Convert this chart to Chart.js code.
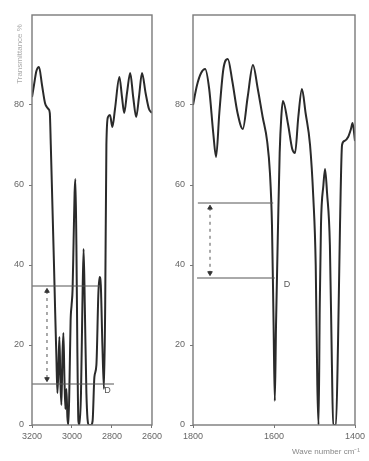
<!DOCTYPE html>
<html><head><meta charset="utf-8">
<script src="https://cdn.jsdelivr.net/npm/chart.js@4.4.1/dist/chart.umd.min.js"></script>
<style>
html,body{margin:0;padding:0;background:#fff;width:369px;height:461px;overflow:hidden;}
#c1{position:absolute;left:0;top:0;}
#c2{position:absolute;left:160px;top:0;}
</style></head><body>
<canvas id="c1" width="165" height="461"></canvas>
<canvas id="c2" width="209" height="461"></canvas>
<script>
// ---- data ----
const leftWavenumber = [3200,3190,3178,3165,3150,3135,3126,3118,3111,3106,3098,3090,3084,3078,3073,3068,3063,3058,3053,3048,3043,3038,3033,3028,3023,3018,3012,3007,3002,2997,2992,2987,2983,2978,2973,2968,2963,2955,2948,2942,2936,2928,2917,2905,2897,2888,2878,2868,2862,2856,2848,2840,2834,2828,2820,2810,2798,2785,2763,2750,2739,2725,2709,2694,2679,2665,2650,2632,2615,2600];
const leftTransmittance = [82,85,88.5,89.5,85,80.5,79.5,79,78,70,55,40,28,17,8,14,22,11,5,17,23,12,4,9,2,0,12,26,30,34,46,58,61.5,45,18,1,0,8,30,44,30,8,0,0,1,12,15,33,37,35,20,9,30,70,77,77.5,74.5,79,87,82,78,83,88,82,77,82,88,83,79,78];
const rightWavenumber = [1800,1790,1780,1770,1760,1750,1743,1735,1725,1714,1703,1690,1677,1665,1652,1640,1628,1617,1610,1605,1601,1598,1595,1590,1586,1582,1578,1565,1555,1548,1540,1531,1522,1511,1503,1497,1493,1490,1487,1484,1478,1474,1469,1462,1457,1454,1447,1442,1437,1432,1426,1417,1410,1406,1400];
const rightTransmittance = [80,85,88,89,84,73,67,78,89,91.5,86,78,74,82,90,84,77,71,63,50,25,6,25,50,68,77,81,75,69,68,77,84,78,70,57,40,10,0,30,50,60,64,58,45,15,0,0,20,50,70,71,72,74,75.5,71];
const yTickValues = [0,20,40,60,80];
const leftXTicks = [3200,3000,2800,2600];
const rightXTicks = [1800,1600,1400];
// construction lines
const leftUpperWN = [3200,2860], leftUpperT = [34.75,34.75];
const leftLowerWN = [3200,2790], leftLowerT = [10.25,10.25];
const leftArrowWN = [3125,3125], leftArrowT = [33.5,11.5];
const rightUpperWN = [1788,1602], rightUpperT = [55.5,55.5];
const rightLowerWN = [1790,1598], rightLowerT = [36.75,36.75];
const rightArrowWN = [1758,1758], rightArrowT = [54.3,38];
const leftMarkWN = [2822], leftMarkT = [8.5], rightMarkWN = [1568], rightMarkT = [35];
const markText = 'D';
const yTitle = 'Transmittance %';
const xTitle = 'Wave number cm\u207B\u00B9';

const pts = (xs, ys) => xs.map((x, i) => ({x, y: ys[i]}));
const FONT = "'Liberation Sans', Arial, sans-serif";

const framePlugin = {
  id: 'frame',
  afterDraw(chart, args, o) {
    const {ctx, chartArea: a, scales} = chart;
    ctx.save();
    ctx.strokeStyle = '#7a7a7a';
    ctx.lineWidth = 1.4;
    ctx.strokeRect(a.left, a.top, a.right - a.left, a.bottom - a.top);
    ctx.fillStyle = '#555';
    ctx.font = '9px ' + FONT;
    ctx.textAlign = 'center';
    ctx.textBaseline = 'middle';
    (o.marks || []).forEach(m => {
      m.xs.forEach((x, i) => {
        ctx.fillText(markText, scales.x.getPixelForValue(x), scales.y.getPixelForValue(m.ys[i]));
      });
    });
    if (o.xtitle) {
      ctx.fillStyle = '#888';
      ctx.font = '8px ' + FONT;
      ctx.textAlign = 'right';
      ctx.fillText(xTitle, a.right + 5, 452);
    }
    if (o.vtitle) {
      ctx.translate(20, 54);
      ctx.rotate(-Math.PI / 2);
      ctx.fillStyle = '#aaa';
      ctx.font = '8px ' + FONT;
      ctx.textAlign = 'center';
      ctx.fillText(yTitle, 0, 0);
    }
    ctx.restore();
  }
};

function lineDs(data, extra) {
  return Object.assign({data, borderColor: '#2a2a2a', borderWidth: 2, pointRadius: 0,
    cubicInterpolationMode: 'monotone', fill: false}, extra || {});
}
function annoDs(data, extra) {
  return Object.assign({data, borderColor: '#555', borderWidth: 1, pointRadius: 0, tension: 0, fill: false}, extra || {});
}
function arrowDs(data) {
  return annoDs(data, {borderDash: [3, 4], pointRadius: 2.6, pointStyle: 'triangle',
    pointBackgroundColor: '#333', pointBorderColor: '#333', pointRotation: [0, 180]});
}

function makeChart(id, cfg) {
  return new Chart(document.getElementById(id), {
    type: 'line',
    data: {datasets: cfg.datasets},
    options: {
      responsive: false, animation: false, devicePixelRatio: 1,
      layout: {padding: cfg.padding},
      plugins: {legend: {display: false}, tooltip: {enabled: false}, frame: cfg.frame},
      scales: {
        x: {
          type: 'linear', reverse: true, min: cfg.xmin, max: cfg.xmax,
          afterBuildTicks: s => { s.ticks = cfg.xticks.map(v => ({value: v})); },
          afterFit: s => { s.height = 36; },
          grid: {drawOnChartArea: false, drawTicks: true, tickLength: 3, color: '#777'},
          border: {display: false},
          ticks: {font: {size: 9, family: FONT}, color: '#666', padding: 3, maxRotation: 0, autoSkip: false,
            callback: v => String(v)}
        },
        y: {
          type: 'linear', min: 0, max: 102.5,
          afterBuildTicks: s => { s.ticks = yTickValues.map(v => ({value: v})); },
          afterFit: s => { s.width = cfg.yw; },
          grid: {drawOnChartArea: false, drawTicks: true, tickLength: 3, color: '#777'},
          border: {display: false},
          ticks: {font: {size: 9, family: FONT}, color: '#666', padding: 5, callback: v => String(v)}
        }
      }
    },
    plugins: [framePlugin]
  });
}

makeChart('c1', {
  xmin: 2600, xmax: 3200, xticks: leftXTicks, yw: 32,
  padding: {top: 15, right: 12, bottom: 0, left: 0},
  frame: {vtitle: true, marks: [{xs: leftMarkWN, ys: leftMarkT}]},
  datasets: [
    annoDs(pts(leftUpperWN, leftUpperT)),
    annoDs(pts(leftLowerWN, leftLowerT)),
    arrowDs(pts(leftArrowWN, leftArrowT)),
    lineDs(pts(leftWavenumber, leftTransmittance))
  ]
});

makeChart('c2', {
  xmin: 1400, xmax: 1800, xticks: rightXTicks, yw: 33,
  padding: {top: 15, right: 14, bottom: 0, left: 0},
  frame: {vtitle: false, xtitle: true, marks: [{xs: rightMarkWN, ys: rightMarkT}]},
  datasets: [
    annoDs(pts(rightUpperWN, rightUpperT)),
    annoDs(pts(rightLowerWN, rightLowerT)),
    arrowDs(pts(rightArrowWN, rightArrowT)),
    lineDs(pts(rightWavenumber, rightTransmittance))
  ]
});
</script>
</body></html>
